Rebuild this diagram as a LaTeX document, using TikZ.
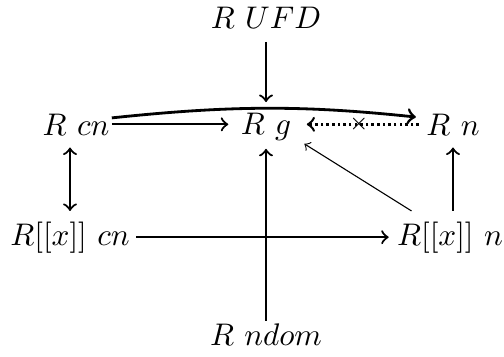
\documentclass[tikz,border=0pt]{standalone}
\begin{document}
\begin{tikzpicture}[x=0.32pt,y=-0.32pt,
  lbl/.style={inner sep=0pt, anchor=base},
  arr/.style={line width=0.7pt, ->},
  arcarr/.style={line width=0.9pt, ->},
  dotarr/.style={line width=0.8pt, densely dotted, ->},
  thinarr/.style={line width=0.35pt, ->}]
\useasboundingbox (0,0) rectangle (504,356);
\node[lbl] (Rufd) at (266,28) {$R\ UFD$};
\node[lbl] (Rcn) at (76,135) {$R\ cn$};
\node[lbl] (Rg) at (266,134) {$R\ g$};
\node[lbl] (Rn) at (453,135) {$R\ n$};
\node[lbl] (Rxcn) at (70,245) {$R[[x]]\ cn$};
\node[lbl] (Rxn) at (450,245) {$R[[x]]\ n$};
\node[lbl] (Rnd) at (266,345) {$R\ ndom$};
\draw[arr, shorten <=4.2pt, shorten >=3.2pt] (Rufd.south) -- (Rg.north);
\draw[arr, shorten <=0.6pt, shorten >=3.8pt] (Rcn.east) -- (Rcn.east -| Rg.west);
\draw[arcarr, shorten <=0.6pt, shorten >=3.2pt] ([yshift=2pt]Rcn.east) to[bend left=6] ([yshift=2pt]Rn.west);
\draw[dotarr, shorten <=2.2pt, shorten >=4.8pt] (Rn.west) -- (Rn.west -| Rg.east) node[midway, solid, inner sep=0pt] (cr) {\scriptsize$\times$};
\draw[arr, <->, shorten <=3.2pt, shorten >=3.8pt] (Rxcn.north) -- (Rxcn.north |- Rcn.south);
\draw[arr, shorten <=3.2pt, shorten >=3.8pt] (Rn.south |- Rxn.north) -- (Rn.south);
\draw[arr, shorten <=2pt, shorten >=2.5pt] (Rxcn.east) -- (Rxcn.east -| Rxn.west);
\draw[arr, shorten <=0.6pt, shorten >=2.6pt] (Rnd.north) -- (Rg.south);
\draw[thinarr] ([xshift=4.8pt,yshift=3.2pt]Rxn.north west) -- ([xshift=4pt,yshift=-1pt]Rg.south east);
\end{tikzpicture}
\end{document}
